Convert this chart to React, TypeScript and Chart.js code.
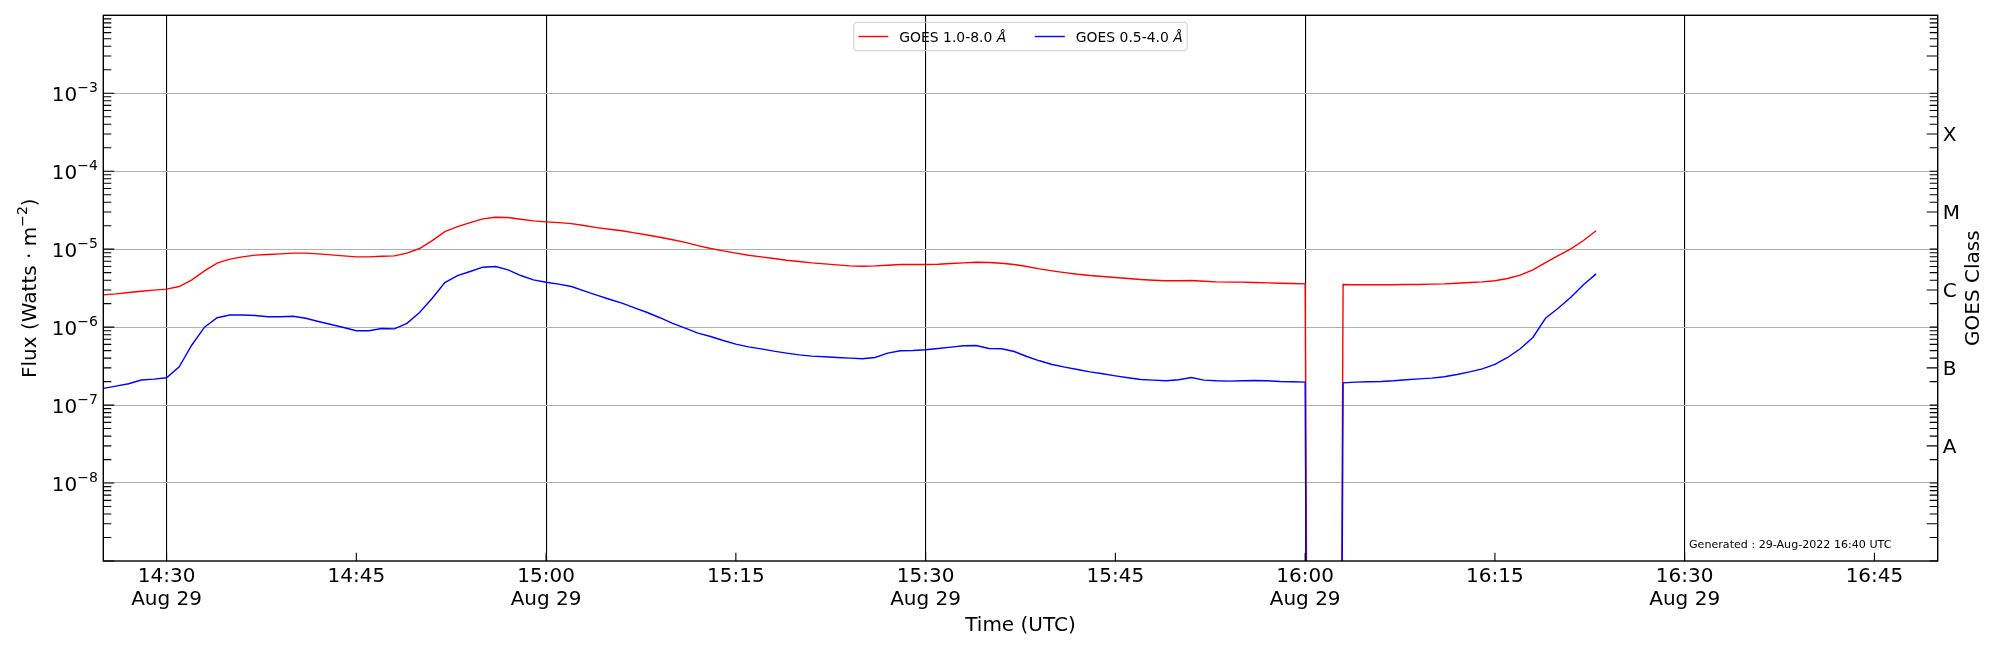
import React, { useEffect, useRef } from 'react';
import { Chart, registerables, Plugin } from 'chart.js';

// Registra controladores, elementos e escalas do Chart.js
Chart.register(...registerables);

const WIDTH = 2000;
const HEIGHT = 650;
const FONT = '"DejaVu Sans", sans-serif';

// Eixo do tempo em minutos desde 00:00 UTC de 29-Aug-2022
const FIRST_SAMPLE = 14 * 60 + 25; // 14:25, cadência de 1 minuto
const AXIS_START = 14 * 60 + 25;
const AXIS_END = 16 * 60 + 50;

const X_TICKS = [870, 885, 900, 915, 930, 945, 960, 975, 990, 1005];
const X_TICK_LABELS = ['14:30', '14:45', '15:00', '15:15', '15:30', '15:45', '16:00', '16:15', '16:30', '16:45'];
const DATE_LABEL = 'Aug 29';

const Y_MIN = 1e-9;
const Y_MAX = 1e-2;
const Y_DECADES = [1e-9, 1e-8, 1e-7, 1e-6, 1e-5, 1e-4, 1e-3, 1e-2];
const Y_LABEL_EXPONENTS = [-8, -7, -6, -5, -4, -3];

const GOES_CLASSES = ['A', 'B', 'C', 'M', 'X'];
const CLASS_FLUX = [3e-8, 3e-7, 3e-6, 3e-5, 3e-4];

const LEGEND_LABELS = ['GOES 1.0-8.0 ', 'GOES 0.5-4.0 '];
const GENERATED = 'Generated : 29-Aug-2022 16:40 UTC';

// GOES 1.0-8.0 Å, 14:25 .. 16:23 (0 = leitura inválida)
const XRS_LONG = [
  2.59e-6, 2.67e-6, 2.78e-6, 2.89e-6, 2.98e-6, 3.07e-6, 3.32e-6, 4.04e-6, 5.27e-6, 6.62e-6,
  7.44e-6, 7.96e-6, 8.38e-6, 8.53e-6, 8.71e-6, 8.89e-6, 8.89e-6, 8.71e-6, 8.45e-6, 8.2e-6,
  7.96e-6, 7.96e-6, 8.11e-6, 8.2e-6, 8.9e-6, 1.02e-5, 1.29e-5, 1.68e-5, 1.95e-5, 2.19e-5,
  2.45e-5, 2.57e-5, 2.55e-5, 2.42e-5, 2.31e-5, 2.24e-5, 2.19e-5, 2.13e-5, 2.01e-5, 1.89e-5,
  1.8e-5, 1.72e-5, 1.62e-5, 1.52e-5, 1.42e-5, 1.32e-5, 1.22e-5, 1.11e-5, 1.02e-5, 9.5e-6,
  8.89e-6, 8.37e-6, 7.96e-6, 7.58e-6, 7.22e-6, 6.94e-6, 6.67e-6, 6.48e-6, 6.29e-6, 6.11e-6,
  6.05e-6, 6.11e-6, 6.23e-6, 6.35e-6, 6.35e-6, 6.35e-6, 6.41e-6, 6.54e-6, 6.67e-6, 6.81e-6,
  6.74e-6, 6.6e-6, 6.35e-6, 5.99e-6, 5.59e-6, 5.27e-6, 5.01e-6, 4.77e-6, 4.59e-6, 4.46e-6,
  4.33e-6, 4.2e-6, 4.08e-6, 4.0e-6, 3.93e-6, 3.93e-6, 3.96e-6, 3.88e-6, 3.81e-6, 3.78e-6,
  3.78e-6, 3.73e-6, 3.7e-6, 3.66e-6, 3.63e-6, 3.59e-6, 0, 0, 3.52e-6, 3.49e-6,
  3.49e-6, 3.49e-6, 3.49e-6, 3.52e-6, 3.52e-6, 3.56e-6, 3.59e-6, 3.66e-6, 3.73e-6, 3.81e-6,
  3.93e-6, 4.2e-6, 4.64e-6, 5.43e-6, 6.74e-6, 8.28e-6, 1.01e-5, 1.29e-5, 1.72e-5,
];

// GOES 0.5-4.0 Å, 14:25 .. 16:23
const XRS_SHORT = [
  1.64e-7, 1.75e-7, 1.88e-7, 2.1e-7, 2.15e-7, 2.24e-7, 3.1e-7, 5.9e-7, 1.0e-6, 1.32e-6,
  1.43e-6, 1.43e-6, 1.41e-6, 1.36e-6, 1.36e-6, 1.38e-6, 1.3e-6, 1.18e-6, 1.08e-6, 9.9e-7,
  9.0e-7, 9.0e-7, 9.6e-7, 9.5e-7, 1.12e-6, 1.54e-6, 2.35e-6, 3.73e-6, 4.59e-6, 5.17e-6,
  5.87e-6, 5.99e-6, 5.43e-6, 4.59e-6, 4.04e-6, 3.77e-6, 3.56e-6, 3.32e-6, 2.92e-6, 2.57e-6,
  2.28e-6, 2.03e-6, 1.77e-6, 1.54e-6, 1.32e-6, 1.12e-6, 9.7e-7, 8.37e-7, 7.58e-7, 6.74e-7,
  6.05e-7, 5.59e-7, 5.27e-7, 4.92e-7, 4.64e-7, 4.41e-7, 4.25e-7, 4.16e-7, 4.08e-7, 4.0e-7,
  3.93e-7, 4.08e-7, 4.64e-7, 4.97e-7, 5.01e-7, 5.12e-7, 5.32e-7, 5.54e-7, 5.76e-7, 5.82e-7,
  5.32e-7, 5.27e-7, 4.87e-7, 4.2e-7, 3.7e-7, 3.32e-7, 3.07e-7, 2.86e-7, 2.67e-7, 2.52e-7,
  2.37e-7, 2.24e-7, 2.13e-7, 2.09e-7, 2.05e-7, 2.11e-7, 2.26e-7, 2.09e-7, 2.05e-7, 2.03e-7,
  2.05e-7, 2.07e-7, 2.05e-7, 2.01e-7, 1.99e-7, 1.97e-7, 0, 0, 1.93e-7, 1.97e-7,
  1.99e-7, 2.01e-7, 2.05e-7, 2.11e-7, 2.17e-7, 2.22e-7, 2.31e-7, 2.47e-7, 2.67e-7, 2.92e-7,
  3.32e-7, 4.08e-7, 5.27e-7, 7.36e-7, 1.3e-6, 1.75e-6, 2.42e-6, 3.49e-6, 4.82e-6,
];

const RED = '#ff0000';
const BLUE = '#0000ff';

// leituras não positivas viram um valor minúsculo, como o clip do eixo log do matplotlib
const CLIP_FLOOR = 1e-40;

const toPoints = (values: number[]) =>
  values.map((v, i) => ({ x: FIRST_SAMPLE + i, y: v > 0 ? v : CLIP_FLOOR }));

const goesAxes: Plugin<'line'> = {
  id: 'goesAxes',
  afterDraw(chart) {
    const { ctx, chartArea: a } = chart;
    const xs = chart.scales.x;
    const ys = chart.scales.y;
    ctx.save();

    // ticks para dentro
    ctx.strokeStyle = '#000';
    ctx.lineWidth = 1.1;
    ctx.beginPath();
    for (let e = -9; e <= -3; e++) {
      for (let k = 1; k <= 9; k++) {
        const y = ys.getPixelForValue(k * Math.pow(10, e));
        ctx.moveTo(a.left, y);
        ctx.lineTo(a.left + (k === 1 ? 11 : 8), y);
        ctx.moveTo(a.right, y);
        ctx.lineTo(a.right - (k === 3 ? 11 : 8), y);
      }
    }
    X_TICKS.forEach((v) => {
      const x = xs.getPixelForValue(v);
      ctx.moveTo(x, a.bottom);
      ctx.lineTo(x, a.bottom - 8.3);
    });
    ctx.stroke();

    // moldura
    ctx.lineWidth = 1.4;
    ctx.strokeRect(a.left, a.top, a.right - a.left, a.bottom - a.top);

    ctx.fillStyle = '#000';
    ctx.textBaseline = 'alphabetic';

    // rótulos do eixo y: 10^n
    ctx.textAlign = 'right';
    Y_LABEL_EXPONENTS.forEach((e) => {
      const y = ys.getPixelForValue(Math.pow(10, e));
      const sup = '\u2212' + Math.abs(e);
      ctx.font = `14px ${FONT}`;
      const sw = ctx.measureText(sup).width;
      const right = a.left - 5.5;
      ctx.fillText(sup, right, y - 1.5);
      ctx.font = `20px ${FONT}`;
      ctx.fillText('10', right - sw, y + 7.8);
    });

    // rótulos do eixo x
    ctx.textAlign = 'center';
    ctx.font = `20px ${FONT}`;
    X_TICKS.forEach((v, i) => {
      const x = xs.getPixelForValue(v);
      ctx.fillText(X_TICK_LABELS[i], x, a.bottom + 20.5);
      if (v % 30 === 0) ctx.fillText(DATE_LABEL, x, a.bottom + 43.5);
    });
    ctx.fillText('Time (UTC)', (a.left + a.right) / 2, a.bottom + 69.5);

    // classes GOES à direita
    ctx.textAlign = 'left';
    GOES_CLASSES.forEach((c, i) => {
      ctx.fillText(c, a.right + 5, ys.getPixelForValue(CLASS_FLUX[i]) + 7.3);
    });

    const midY = (a.top + a.bottom) / 2;

    // título esquerdo com expoente
    ctx.save();
    ctx.translate(36, midY);
    ctx.rotate(-Math.PI / 2);
    ctx.font = `20px ${FONT}`;
    const p1 = 'Flux (Watts \u00b7 m';
    const p3 = ')';
    const w1 = ctx.measureText(p1).width;
    const w3 = ctx.measureText(p3).width;
    ctx.font = `14px ${FONT}`;
    const p2 = '\u22122';
    const w2 = ctx.measureText(p2).width;
    let cx = -(w1 + w2 + w3) / 2;
    ctx.textAlign = 'left';
    ctx.font = `20px ${FONT}`;
    ctx.fillText(p1, cx, 0);
    cx += w1;
    ctx.font = `14px ${FONT}`;
    ctx.fillText(p2, cx, -9);
    cx += w2;
    ctx.font = `20px ${FONT}`;
    ctx.fillText(p3, cx, 0);
    ctx.restore();

    // título direito
    ctx.save();
    ctx.translate(a.right + 41.5, midY);
    ctx.rotate(-Math.PI / 2);
    ctx.textAlign = 'center';
    ctx.font = `20px ${FONT}`;
    ctx.fillText('GOES Class', 0, 0);
    ctx.restore();

    // legenda
    const fs = 13.9;
    const normal = `${fs}px ${FONT}`;
    const italic = `italic ${fs}px ${FONT}`;
    ctx.font = normal;
    const tw = LEGEND_LABELS.map((t) => ctx.measureText(t).width);
    ctx.font = italic;
    const aw = ctx.measureText('\u00c5').width;
    const pad = 4.5;
    const handle = 30;
    const textPad = 11;
    const colGap = 28.7;
    const boxW = 2 * pad + 2 * (handle + textPad) + colGap + tw[0] + tw[1] + 2 * aw;
    const boxH = 28.4;
    const bx = (a.left + a.right) / 2 - boxW / 2;
    const by = a.top + 7;
    ctx.strokeStyle = '#cccccc';
    ctx.lineWidth = 1;
    ctx.beginPath();
    ctx.roundRect(bx, by, boxW, boxH, 3);
    ctx.stroke();
    const ly = by + boxH / 2;
    let lx = bx + pad;
    [RED, BLUE].forEach((col, i) => {
      ctx.strokeStyle = col;
      ctx.lineWidth = 1.4;
      ctx.beginPath();
      ctx.moveTo(lx, ly);
      ctx.lineTo(lx + handle, ly);
      ctx.stroke();
      lx += handle + textPad;
      ctx.fillStyle = '#000';
      ctx.textAlign = 'left';
      ctx.font = normal;
      ctx.fillText(LEGEND_LABELS[i], lx, ly + 5);
      ctx.font = italic;
      ctx.fillText('\u00c5', lx + tw[i], ly + 5);
      lx += tw[i] + aw + colGap;
    });

    // carimbo de geração
    ctx.fillStyle = '#000';
    ctx.font = `11.1px ${FONT}`;
    ctx.textAlign = 'left';
    ctx.fillText(GENERATED, a.right - 248.7, a.bottom - 13);

    ctx.restore();
  },
};

const GoesChart: React.FC = () => {
  const canvasRef = useRef<HTMLCanvasElement>(null);
  const chartRef = useRef<Chart | null>(null);

  useEffect(() => {
    if (!canvasRef.current) return;
    if (chartRef.current) chartRef.current.destroy();

    chartRef.current = new Chart(canvasRef.current, {
      type: 'line',
      data: {
        datasets: [
          {
            label: 'GOES 1.0-8.0 \u00c5',
            data: toPoints(XRS_LONG),
            borderColor: RED,
            borderWidth: 1.4,
            pointRadius: 0,
            tension: 0,
            order: 1, // desenhada antes, azul fica por cima
          },
          {
            label: 'GOES 0.5-4.0 \u00c5',
            data: toPoints(XRS_SHORT),
            borderColor: BLUE,
            borderWidth: 1.4,
            pointRadius: 0,
            tension: 0,
            order: 0,
          },
        ],
      },
      options: {
        animation: false,
        responsive: false,
        devicePixelRatio: 1,
        events: [],
        layout: { padding: { top: 15.3, left: 0, right: 0, bottom: 0 } },
        plugins: { legend: { display: false }, tooltip: { enabled: false } },
        scales: {
          x: {
            type: 'linear',
            min: AXIS_START,
            max: AXIS_END,
            afterBuildTicks: (s: any) => {
              s.ticks = X_TICKS.map((v) => ({ value: v }));
            },
            afterFit: (s: any) => {
              s.height = 89;
            },
            ticks: { display: false },
            border: { display: false },
            grid: {
              drawTicks: false,
              lineWidth: 1.1,
              color: (c: any) => (c.tick && c.tick.value % 30 === 0 ? '#000000' : 'rgba(0,0,0,0)'),
            },
          },
          y: {
            type: 'logarithmic',
            position: 'left',
            min: Y_MIN,
            max: Y_MAX,
            afterBuildTicks: (s: any) => {
              s.ticks = Y_DECADES.map((v) => ({ value: v }));
            },
            afterFit: (s: any) => {
              s.width = 103.3;
            },
            ticks: { display: false },
            border: { display: false },
            grid: {
              drawTicks: false,
              lineWidth: 1.1,
              color: (c: any) =>
                c.tick && (c.tick.value <= Y_MIN * 1.01 || c.tick.value >= Y_MAX * 0.99)
                  ? 'rgba(0,0,0,0)'
                  : '#b0b0b0',
            },
          },
          y2: {
            type: 'logarithmic',
            position: 'right',
            min: Y_MIN,
            max: Y_MAX,
            afterFit: (s: any) => {
              s.width = 62.3;
            },
            ticks: { display: false },
            border: { display: false },
            grid: { display: false, drawTicks: false },
          },
        },
      },
      plugins: [goesAxes],
    } as any);

    return () => {
      if (chartRef.current) {
        chartRef.current.destroy();
        chartRef.current = null;
      }
    };
  }, []);

  return (
    <canvas
      ref={canvasRef}
      width={WIDTH}
      height={HEIGHT}
      style={{ position: 'absolute', left: 0, top: 0, display: 'block', background: '#fff' }}
    />
  );
};

export default function App() {
  return <GoesChart />;
}
